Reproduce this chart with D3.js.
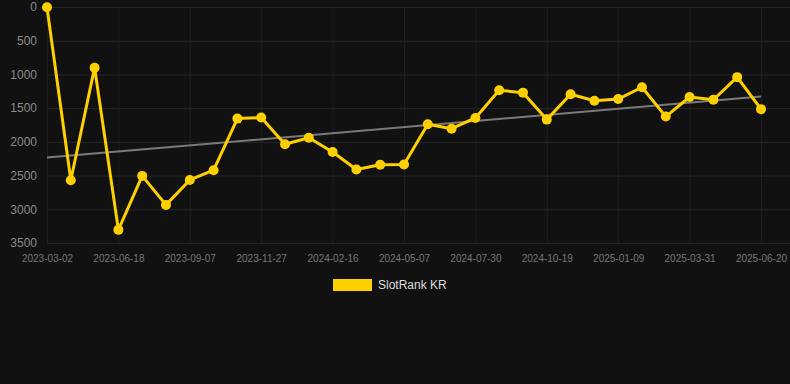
<!DOCTYPE html>
<html>
<head>
<meta charset="utf-8">
<script src="https://cdn.jsdelivr.net/npm/d3@7"></script>
<style>
  html, body { margin: 0; padding: 0; background: #111111; }
  svg { display: block; font-family: "Liberation Sans", Arial, sans-serif; }
</style>
</head>
<body>
<svg id="chart" width="790" height="384"></svg>
<script>
// Dates of each observation (categorical x axis)
const dates = [
  "2023-03-02", "2023-04-07", "2023-05-13", "2023-06-18", "2023-07-15", "2023-08-11",
  "2023-09-07", "2023-10-04", "2023-10-31", "2023-11-27", "2023-12-24", "2024-01-20",
  "2024-02-16", "2024-03-14", "2024-04-10", "2024-05-07", "2024-06-04", "2024-07-02",
  "2024-07-30", "2024-08-26", "2024-09-22", "2024-10-19", "2024-11-15", "2024-12-13",
  "2025-01-09", "2025-02-05", "2025-03-04", "2025-03-31", "2025-04-27", "2025-05-24",
  "2025-06-20"
];

// Rank values (lower is better, axis is reversed)
const ranks = [
  5, 2570, 900, 3305, 2505, 2935, 2565, 2420, 1655, 1640, 2035,
  1940, 2150, 2410, 2340, 2335, 1740, 1805, 1645, 1235, 1270,
  1670, 1295, 1390, 1365, 1190, 1625, 1335, 1375, 1040, 1515
];

// Labelled ticks on the x axis
const xTickLabels = [
  "2023-03-02", "2023-06-18", "2023-09-07", "2023-11-27", "2024-02-16", "2024-05-07",
  "2024-07-30", "2024-10-19", "2025-01-09", "2025-03-31", "2025-06-20"
];
const yTicks = [0, 500, 1000, 1500, 2000, 2500, 3000, 3500];
const seriesName = "SlotRank KR";

const svg = d3.select('#chart');
const plotLeft = 47, plotRight = 790, xEnd = 761;
const plotTop = 7, plotBottom = 243;

const data = dates.map((d, i) => ({ date: d, rank: ranks[i], i: i }));

// Scales
const x = d3.scalePoint()
    .domain(dates)
    .range([plotLeft, xEnd]);

const y = d3.scaleLinear()
    .domain([0, 3500])
    .range([plotTop, plotBottom]);

// Horizontal grid
svg.append('g')
    .attr('transform', `translate(${plotLeft},0)`)
    .call(d3.axisLeft(y)
        .tickValues(yTicks)
        .tickSize(-(plotRight - plotLeft))
        .tickFormat(''))
    .call(g => g.select('.domain').remove())
    .selectAll('.tick line')
    .attr('stroke', '#262626')
    .attr('stroke-width', 1);

// Vertical grid
svg.append('g')
    .attr('transform', `translate(0,${plotBottom})`)
    .call(d3.axisBottom(x)
        .tickValues(xTickLabels)
        .tickSize(-(plotBottom - plotTop))
        .tickFormat(''))
    .call(g => g.select('.domain').remove())
    .selectAll('.tick line')
    .attr('stroke', '#1e1e1e')
    .attr('stroke-width', 1);

// Y axis labels
svg.append('g')
    .attr('transform', `translate(${plotLeft},0)`)
    .call(d3.axisLeft(y).tickValues(yTicks).tickFormat(d3.format('d')).tickSize(0).tickPadding(10))
    .call(g => g.select('.domain').remove())
    .selectAll('text')
    .attr('fill', '#8a8a8a')
    .style('font-size', '12px');

// X axis labels
svg.append('g')
    .attr('transform', `translate(0,${plotBottom})`)
    .call(d3.axisBottom(x).tickValues(xTickLabels).tickSize(0).tickPadding(12))
    .call(g => g.select('.domain').remove())
    .selectAll('text')
    .attr('fill', '#777777')
    .style('font-size', '10px');

// Linear trend line (least squares over index)
const n = data.length;
const mx = d3.mean(data, d => d.i);
const my = d3.mean(data, d => d.rank);
const slope = d3.sum(data, d => (d.i - mx) * (d.rank - my)) / d3.sum(data, d => (d.i - mx) ** 2);
const icpt = my - slope * mx;
const trend = [data[0], data[n - 1]].map(d => ({ date: d.date, rank: icpt + slope * d.i }));

svg.append('path')
    .datum(trend)
    .attr('fill', 'none')
    .attr('stroke', '#7a7a7a')
    .attr('stroke-width', 2)
    .attr('d', d3.line().x(d => x(d.date)).y(d => y(d.rank)));

// Main series line
svg.append('path')
    .datum(data)
    .attr('fill', 'none')
    .attr('stroke', '#ffd000')
    .attr('stroke-width', 3)
    .attr('stroke-linejoin', 'round')
    .attr('d', d3.line().x(d => x(d.date)).y(d => y(d.rank)));

// Points
svg.append('g')
    .selectAll('circle')
    .data(data)
    .enter().append('circle')
    .attr('cx', d => x(d.date))
    .attr('cy', d => y(d.rank))
    .attr('r', 5)
    .attr('fill', '#ffd000');

// Legend
const legend = svg.append('g').attr('transform', 'translate(333,279)');
legend.append('rect')
    .attr('width', 39)
    .attr('height', 12)
    .attr('fill', '#ffd000');
legend.append('text')
    .attr('x', 45)
    .attr('y', 10)
    .attr('fill', '#dddddd')
    .style('font-size', '12px')
    .text(seriesName);
</script>
</body>
</html>
